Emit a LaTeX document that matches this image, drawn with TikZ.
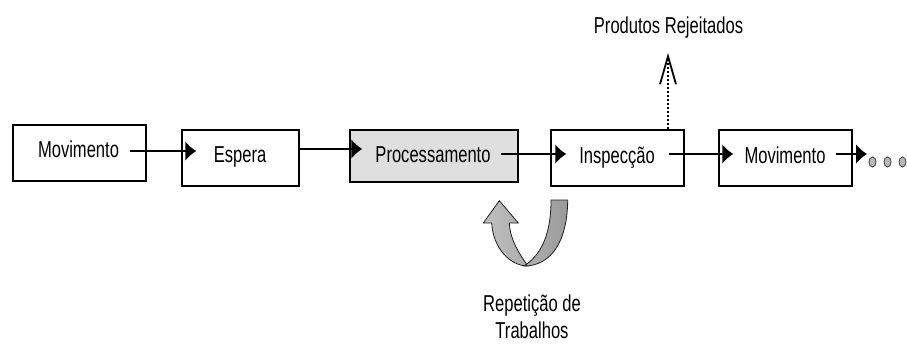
\documentclass[tikz,border=0pt]{standalone}
\usepackage{fontspec}
\setmainfont{Liberation Sans}[FakeStretch=0.72]
\usetikzlibrary{arrows.meta,calc}
\begin{document}
\begin{tikzpicture}[x=1pt,y=-1pt,
  box/.style={draw=black,line width=1.5pt,inner sep=0pt,minimum height=56pt},
  lbl/.style={font=\fontsize{23}{27}\selectfont,inner sep=0pt,anchor=base},
  flow/.style={line width=1.6pt,-{Latex[length=11pt,width=20pt]}},
  reject/.style={line width=1.6pt,dash pattern=on 2pt off 2pt,-{Straight Barb[length=28pt,width=16pt,line width=1.8pt]}},
  dotmark/.style={draw=gray!60!black,fill=gray!55,line width=0.9pt},
  ribbon/.style={draw=gray!25!black,line width=0.8pt}
]
\useasboundingbox (0,0) rectangle (907,343);

% boxes
\node[box,minimum width=133pt] (b1) at (79.5,153) {};
\node[box,minimum width=117pt] (b2) at (240.5,158) {};
\node[box,minimum width=168pt,minimum height=52pt,fill=gray!25] (b3) at (434,156) {};
\node[box,minimum width=133pt] (b4) at (617.5,158) {};
\node[box,minimum width=133pt] (b5) at (785.5,158) {};

% labels
\node[lbl] (t1) at (78.5,157) {Movimento};
\node[lbl] (t2) at (240,162) {Espera};
\node[lbl] (t3) at (433,162) {Processamento};
\node[lbl] (t4) at (617,163) {Inspecção};
\node[lbl] (t5) at (785,163) {Movimento};
\node[lbl] (rejlbl) at (668.5,33) {Produtos Rejeitados};
\node[font=\fontsize{23}{27}\selectfont,inner sep=0pt,align=center] (replbl) at (532,316.5) {Repetição de\\Trabalhos};

% flow arrows
\coordinate (s1) at (130,151);
\coordinate (s2) at (299,149);
\coordinate (s3) at (501,154);
\coordinate (s4) at (669,154);
\coordinate (s5) at (836,154);
\coordinate (e5) at (867,154);
\draw[flow] (s1) -- ($(s1 -| b2.west)+(15,0)$);
\draw[flow] (s2) -- ($(s2 -| b3.west)+(13,0)$);
\draw[flow] (s3) -- ($(s3 -| b4.west)+(16,0)$);
\draw[flow] (s4) -- ($(s4 -| b5.west)+(15,0)$);
\draw[flow] (s5) -- (e5);

% continuation dots
\draw[dotmark] (872.5,162) ellipse [x radius=3.5pt,y radius=5pt];
\draw[dotmark] (887.5,162) ellipse [x radius=3.5pt,y radius=5pt];
\draw[dotmark] (902.5,162) ellipse [x radius=3.5pt,y radius=5pt];

% rejected products
\coordinate (rj) at (668,53);
\draw[reject] (b4.north -| rj) -- (rj);

% rework curved arrow
\draw[ribbon,left color=gray!50,right color=gray!65]
  (491.7,223) .. controls (493,248) and (510,266) .. (528,266)
  .. controls (520,255) and (510,240) .. (509.3,223)
  -- (518.3,223) -- (499.3,200.7) -- (483.3,223) -- cycle;
\draw[ribbon,left color=gray!60,right color=gray!80]
  (551,200) -- (567.7,200) .. controls (567.5,240) and (552,266) .. (524,266)
  .. controls (541,255) and (551,235) .. (551,200) -- cycle;
\end{tikzpicture}
\end{document}
